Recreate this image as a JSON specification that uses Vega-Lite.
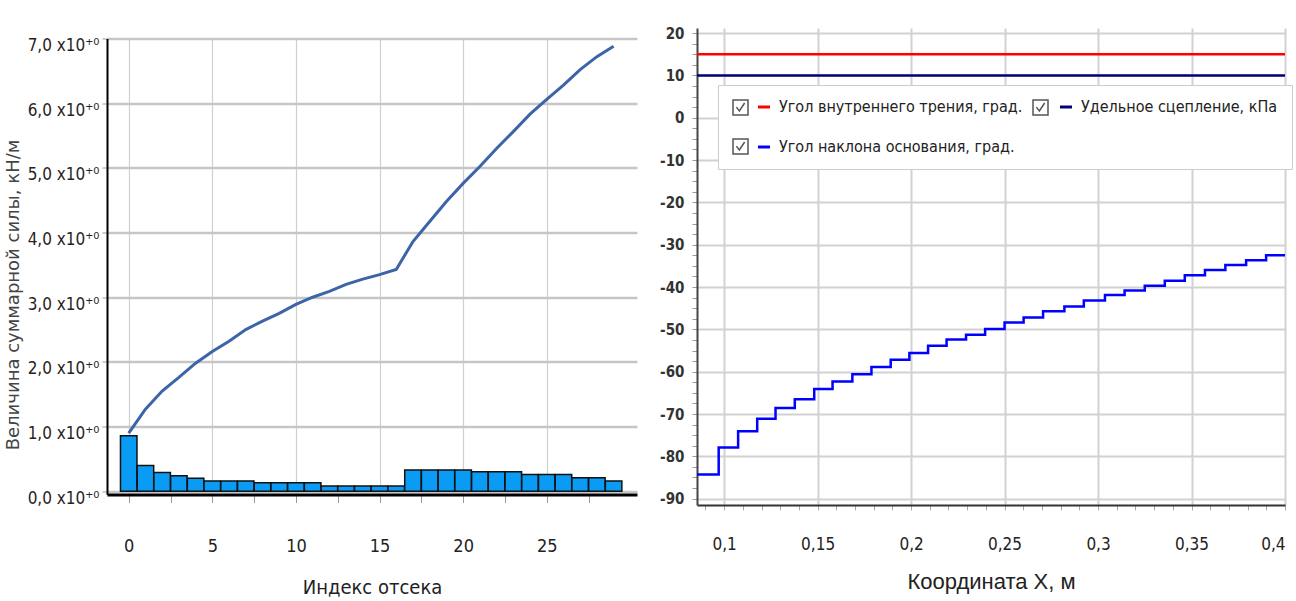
{
  "$schema": "https://vega.github.io/schema/vega-lite/v6.json",
  "background": "white",
  "padding": {"left": 4, "top": 26, "right": 0, "bottom": 5},
  "bounds": "flush",
  "center": true,
  "spacing": 60,
  "config": {"view": {"stroke": null}},
  "datasets": {
    "left": [
      {"idx": 0, "force": 0.9, "bar": 0.86},
      {"idx": 1, "force": 1.27, "bar": 0.4},
      {"idx": 2, "force": 1.55, "bar": 0.29},
      {"idx": 3, "force": 1.76, "bar": 0.24},
      {"idx": 4, "force": 1.98, "bar": 0.2},
      {"idx": 5, "force": 2.16, "bar": 0.16},
      {"idx": 6, "force": 2.32, "bar": 0.16},
      {"idx": 7, "force": 2.5, "bar": 0.16},
      {"idx": 8, "force": 2.63, "bar": 0.13},
      {"idx": 9, "force": 2.75, "bar": 0.13},
      {"idx": 10, "force": 2.89, "bar": 0.13},
      {"idx": 11, "force": 3.0, "bar": 0.13},
      {"idx": 12, "force": 3.09, "bar": 0.08},
      {"idx": 13, "force": 3.2, "bar": 0.08},
      {"idx": 14, "force": 3.28, "bar": 0.08},
      {"idx": 15, "force": 3.35, "bar": 0.08},
      {"idx": 16, "force": 3.43, "bar": 0.08},
      {"idx": 17, "force": 3.86, "bar": 0.33},
      {"idx": 18, "force": 4.17, "bar": 0.33},
      {"idx": 19, "force": 4.48, "bar": 0.33},
      {"idx": 20, "force": 4.76, "bar": 0.33},
      {"idx": 21, "force": 5.02, "bar": 0.3},
      {"idx": 22, "force": 5.3, "bar": 0.3},
      {"idx": 23, "force": 5.56, "bar": 0.3},
      {"idx": 24, "force": 5.83, "bar": 0.26},
      {"idx": 25, "force": 6.06, "bar": 0.26},
      {"idx": 26, "force": 6.28, "bar": 0.26},
      {"idx": 27, "force": 6.52, "bar": 0.21},
      {"idx": 28, "force": 6.72, "bar": 0.21},
      {"idx": 29, "force": 6.88, "bar": 0.16}
    ],
    "right": [
      {"series": "Угол внутреннего трения, град.", "x": 0.0855, "y": 15},
      {"series": "Угол внутреннего трения, град.", "x": 0.4, "y": 15},
      {"series": "Удельное сцепление, кПа", "x": 0.0855, "y": 10},
      {"series": "Удельное сцепление, кПа", "x": 0.4, "y": 10},
      {"series": "Угол наклона основания, град.", "x": 0.0855, "y": -84.3},
      {"series": "Угол наклона основания, град.", "x": 0.0971, "y": -77.9},
      {"series": "Угол наклона основания, град.", "x": 0.1075, "y": -74.1},
      {"series": "Угол наклона основания, град.", "x": 0.1177, "y": -71.1},
      {"series": "Угол наклона основания, град.", "x": 0.1275, "y": -68.6},
      {"series": "Угол наклона основания, град.", "x": 0.1378, "y": -66.5},
      {"series": "Угол наклона основания, град.", "x": 0.1482, "y": -64.1},
      {"series": "Угол наклона основания, град.", "x": 0.158, "y": -62.3},
      {"series": "Угол наклона основания, град.", "x": 0.1686, "y": -60.6},
      {"series": "Угол наклона основания, град.", "x": 0.1788, "y": -58.9},
      {"series": "Угол наклона основания, град.", "x": 0.1891, "y": -57.2},
      {"series": "Угол наклона основания, град.", "x": 0.1991, "y": -55.6},
      {"series": "Угол наклона основания, град.", "x": 0.2091, "y": -53.9},
      {"series": "Угол наклона основания, град.", "x": 0.219, "y": -52.4},
      {"series": "Угол наклона основания, град.", "x": 0.2294, "y": -51.3},
      {"series": "Угол наклона основания, град.", "x": 0.2396, "y": -49.9},
      {"series": "Угол наклона основания, град.", "x": 0.25, "y": -48.4},
      {"series": "Угол наклона основания, град.", "x": 0.2602, "y": -47.2},
      {"series": "Угол наклона основания, град.", "x": 0.2706, "y": -45.7},
      {"series": "Угол наклона основания, град.", "x": 0.282, "y": -44.6},
      {"series": "Угол наклона основания, град.", "x": 0.2924, "y": -43.2},
      {"series": "Угол наклона основания, град.", "x": 0.3037, "y": -41.9},
      {"series": "Угол наклона основания, град.", "x": 0.3142, "y": -40.8},
      {"series": "Угол наклона основания, град.", "x": 0.325, "y": -39.7},
      {"series": "Угол наклона основания, град.", "x": 0.3357, "y": -38.5},
      {"series": "Угол наклона основания, град.", "x": 0.3464, "y": -37.2},
      {"series": "Угол наклона основания, град.", "x": 0.3572, "y": -36.0},
      {"series": "Угол наклона основания, град.", "x": 0.3681, "y": -34.8},
      {"series": "Угол наклона основания, град.", "x": 0.3792, "y": -33.7},
      {"series": "Угол наклона основания, град.", "x": 0.3899, "y": -32.5},
      {"series": "Угол наклона основания, град.", "x": 0.4, "y": -32.5}
    ]
  },
  "hconcat": [
    {
      "width": 530,
      "height": 456,
      "data": {"name": "left"},
      "layer": [
        {
          "mark": {"type": "bar", "width": 16.5, "fill": "#0a9cf5", "stroke": "#111", "strokeWidth": 1.5},
          "encoding": {
            "x": {
              "field": "idx", "type": "quantitative",
              "scale": {"domain": [-1, 30.1], "nice": false, "zero": false},
              "axis": {
                "title": "Индекс отсека",
                "values": [0,1.25,2.5,3.75,5,6.25,7.5,8.75,10,11.25,12.5,13.75,15,16.25,17.5,18.75,20,21.25,22.5,23.75,25,26.25,27.5,28.75],
                "labelExpr": "datum.value % 5 === 0 ? format(datum.value, 'd') : ''",
                "grid": true,
                "gridOpacity": {"condition": {"test": "datum.value % 5 === 0", "value": 1}, "value": 0},
                "gridColor": "#cfcfcf",
                "gridWidth": 1.2,
                "tickSize": 8,
                "tickColor": "#999",
                "domainColor": "#000",
                "domainWidth": 3,
                "labelFont": "DejaVu Sans Condensed, Liberation Sans, sans-serif",
                "labelFontSize": 18,
                "labelColor": "#222",
                "labelPadding": 35,
                "titleFont": "DejaVu Sans Condensed, Liberation Sans, sans-serif",
                "titleFontSize": 20,
                "titleFontWeight": "normal",
                "titleColor": "#222",
                "titlePadding": 22
              }
            },
            "y": {
              "field": "bar", "type": "quantitative",
              "scale": {"domain": [-0.05, 7], "nice": false, "zero": false},
              "axis": {
                "title": "Величина суммарной силы, кН/м",
                "values": [0,0.25,0.5,0.75,1,1.25,1.5,1.75,2,2.25,2.5,2.75,3,3.25,3.5,3.75,4,4.25,4.5,4.75,5,5.25,5.5,5.75,6,6.25,6.5,6.75,7],
                "labelExpr": "datum.value % 1 === 0 ? replace(format(datum.value, '.1f'), '.', ',') + ' x10⁺⁰' : ''",
                "grid": true,
                "gridOpacity": {"condition": {"test": "datum.value % 1 === 0", "value": 1}, "value": 0},
                "gridColor": "#c6c6c6",
                "gridWidth": 2.5,
                "tickSize": 5,
                "tickColor": "#999",
                "domainColor": "#000",
                "domainWidth": 2,
                "labelFont": "DejaVu Sans Condensed, Liberation Sans, sans-serif",
                "labelFontSize": 17,
                "labelColor": "#2a1d1d",
                "labelPadding": 3,
                "labelOffset": 7,
                "titleFont": "DejaVu Sans",
                "titleFontSize": 18,
                "titleFontWeight": "normal",
                "titleColor": "#444",
                "titlePadding": 5,
                "titleY": 256
              }
            }
          }
        },
        {
          "mark": {"type": "line", "color": "#3d63a8", "strokeWidth": 3},
          "encoding": {
            "x": {"field": "idx", "type": "quantitative", "title": "Индекс отсека"},
            "y": {"field": "force", "type": "quantitative", "title": "Величина суммарной силы, кН/м"}
          }
        }
      ]
    },
    {
      "width": 588,
      "height": 477,
      "data": {"name": "right"},
      "encoding": {
        "x": {
          "field": "x", "type": "quantitative",
          "scale": {"domain": [0.0855, 0.4], "nice": false, "zero": false},
          "axis": {
            "title": "Координата X, м",
            "values": [0.09,0.1,0.11,0.12,0.13,0.14,0.15,0.16,0.17,0.18,0.19,0.2,0.21,0.22,0.23,0.24,0.25,0.26,0.27,0.28,0.29,0.3,0.31,0.32,0.33,0.34,0.35,0.36,0.37,0.38,0.39,0.4],
            "labelExpr": "abs(datum.value*20 - round(datum.value*20)) < 0.001 ? replace(format(datum.value, '.2~f'), '.', ',') : ''",
            "grid": true,
            "gridOpacity": {"condition": {"test": "abs(datum.value*20 - round(datum.value*20)) < 0.001", "value": 1}, "value": 0},
            "gridColor": "#d2d2d2",
            "gridWidth": 2,
            "tickSize": 5,
            "tickColor": "#aaa",
            "domainColor": "#333",
            "domainWidth": 2,
            "labelFont": "DejaVu Sans Condensed, Liberation Sans, sans-serif",
            "labelFontSize": 17,
            "labelColor": "#222",
            "labelPadding": 26,
            "titleFont": "Liberation Sans",
            "titleFontSize": 22,
            "titleFontWeight": "normal",
            "titleColor": "#222",
            "titlePadding": 19
          }
        },
        "y": {
          "field": "y", "type": "quantitative",
          "scale": {"domain": [-91.5, 21.2], "nice": false, "zero": false},
          "axis": {
            "title": null,
            "values": [-90,-87.5,-85,-82.5,-80,-77.5,-75,-72.5,-70,-67.5,-65,-62.5,-60,-57.5,-55,-52.5,-50,-47.5,-45,-42.5,-40,-37.5,-35,-32.5,-30,-27.5,-25,-22.5,-20,-17.5,-15,-12.5,-10,-7.5,-5,-2.5,0,2.5,5,7.5,10,12.5,15,17.5,20],
            "labelExpr": "datum.value % 10 === 0 ? '' + datum.value : ''",
            "grid": true,
            "gridOpacity": {"condition": {"test": "datum.value % 10 === 0", "value": 1}, "value": 0},
            "gridColor": "#d2d2d2",
            "gridWidth": 2,
            "tickSize": 5,
            "tickColor": "#999",
            "domainColor": "#444",
            "domainWidth": 2,
            "labelFont": "DejaVu Sans Condensed, Liberation Sans, sans-serif",
            "labelFontSize": 15,
            "labelFontWeight": "bold",
            "labelColor": "#333",
            "labelPadding": 8
          }
        }
      },
      "layer": [
        {
          "mark": {"type": "line", "interpolate": "step-after", "strokeWidth": 2.5},
          "encoding": {
            "color": {
              "field": "series", "type": "nominal",
              "scale": {
                "domain": ["Угол внутреннего трения, град.", "Угол наклона основания, град.", "Удельное сцепление, кПа"],
                "range": ["#ff0000", "#0000ff", "#00007f"]
              },
              "legend": {
                "orient": "none",
                "legendX": 611,
                "legendY": 57,
                "columns": 2,
                "title": null,
                "symbolType": "stroke",
                "symbolStrokeWidth": 3,
                "symbolSize": 144,
                "symbolOffset": 24,
                "labelFont": "DejaVu Sans Condensed, Liberation Sans, sans-serif",
                "labelFontSize": 16,
                "labelColor": "#222",
                "labelLimit": 400,
                "labelOffset": 7,
                "fillColor": "white",
                "strokeColor": "#ccc",
                "padding": 14,
                "rowPadding": 24,
                "columnPadding": 11
              }
            }
          }
        },
        {
          "mark": {"type": "point", "opacity": 0, "filled": false, "color": "#555", "strokeWidth": 1.5},
          "encoding": {
            "shape": {
              "field": "series", "type": "nominal",
              "scale": {
                "domain": ["Удельное сцепление, кПа", "Угол наклона основания, град.", "Угол внутреннего трения, град."],
                "range": ["M-1,-1H1V1H-1Z M-0.55,-0.05L-0.15,0.45L0.55,-0.6", "M-1,-1H1V1H-1Z M-0.55,-0.05L-0.15,0.45L0.55,-0.6", "M-1,-1H1V1H-1Z M-0.55,-0.05L-0.15,0.45L0.55,-0.6"]
              },
              "legend": {
                "orient": "none",
                "legendX": 611,
                "legendY": 57,
                "columns": 2,
                "title": null,
                "labelExpr": "''",
                "symbolSize": 225,
                "symbolOpacity": 1,
                "symbolFillColor": "white",
                "symbolStrokeColor": "#555",
                "symbolStrokeWidth": 1.5,
                "labelFontSize": 16,
                "labelOffset": 0,
                "padding": 14,
                "rowPadding": 18,
                "columnPadding": 279
              }
            }
          }
        }
      ]
    }
  ]
}
